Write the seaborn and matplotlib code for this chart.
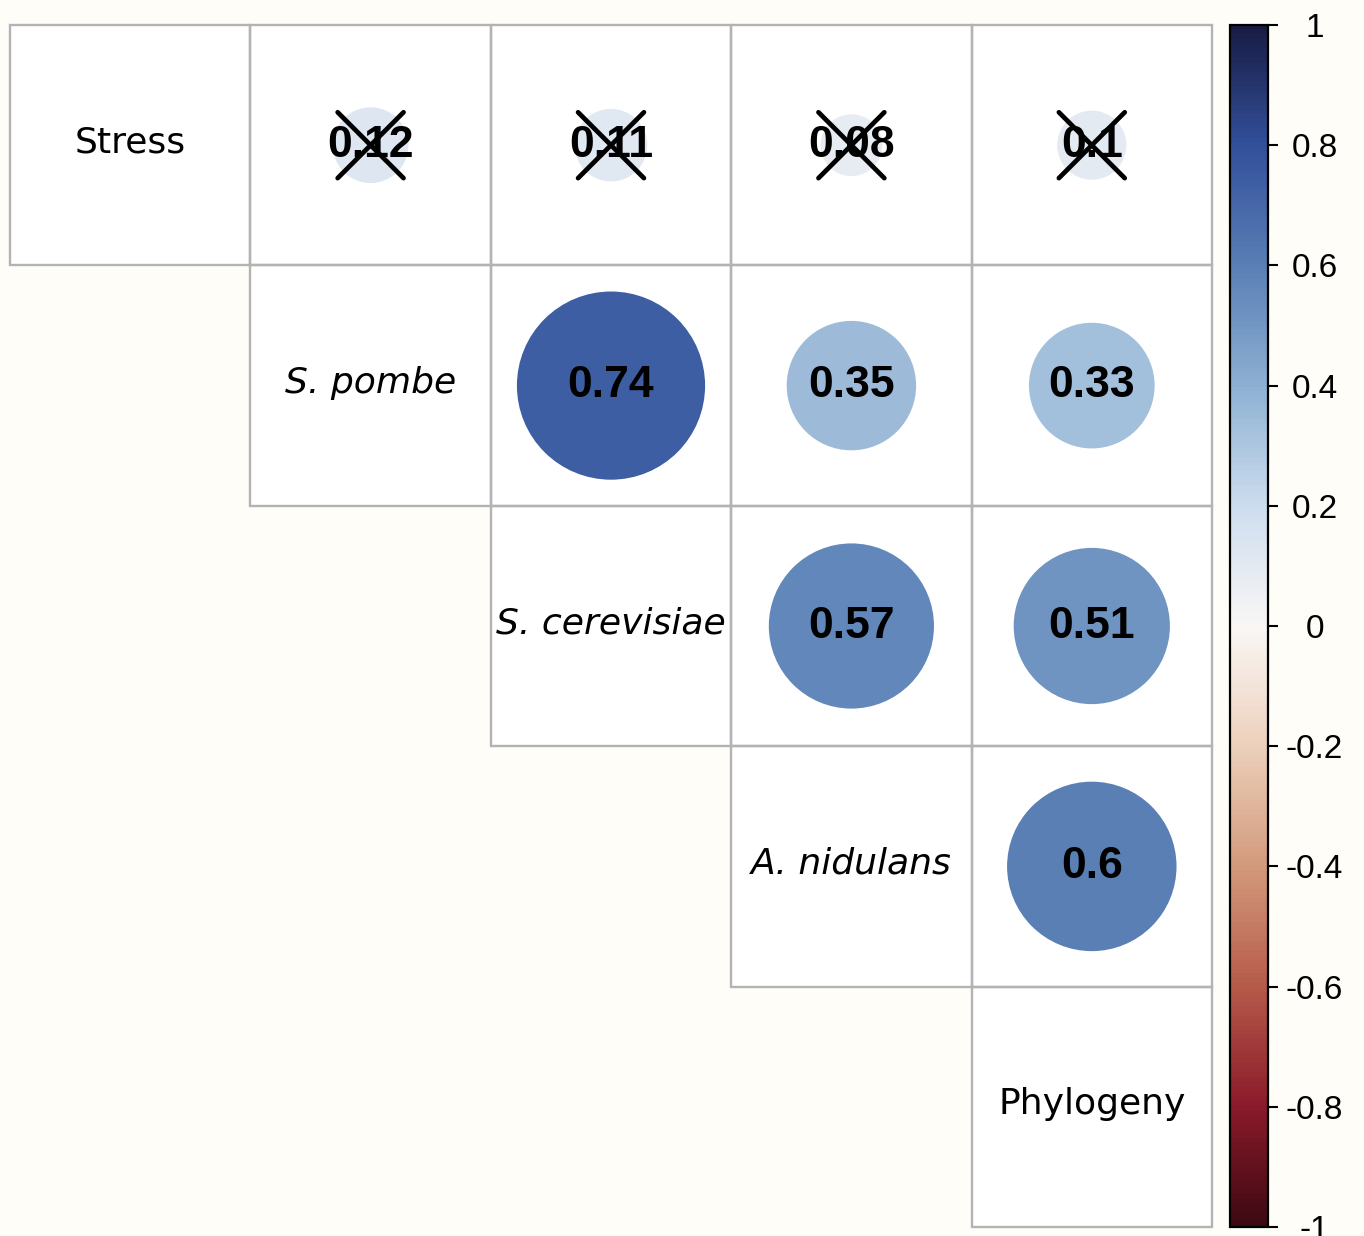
import numpy as np
import pandas as pd
import matplotlib
matplotlib.use("Agg")
import matplotlib.pyplot as plt
import seaborn as sns
from matplotlib.colors import LinearSegmentedColormap, ListedColormap, Normalize
from matplotlib.cm import ScalarMappable
from matplotlib.patches import Circle, Rectangle

# ---- data ---------------------------------------------------------------
variables = ["Stress", "S. pombe", "S. cerevisiae", "A. nidulans", "Phylogeny"]
italic_names = [False, True, True, True, False]

# upper-triangle correlations, row by row
stress_r = [0.12, 0.11, 0.08, 0.10]
pombe_r = [0.74, 0.35, 0.33]
cerevisiae_r = [0.57, 0.51]
nidulans_r = [0.60]

# significance of each correlation (False -> crossed out)
stress_sig = [False, False, False, False]
pombe_sig = [True, True, True]
cerevisiae_sig = [True, True]
nidulans_sig = [True]

cbar_ticks = [-1, -0.8, -0.6, -0.4, -0.2, 0, 0.2, 0.4, 0.6, 0.8, 1]
cbar_labels = ["-1", "-0.8", "-0.6", "-0.4", "-0.2", "0", "0.2", "0.4", "0.6", "0.8", "1"]

# ---- matrices -----------------------------------------------------------
n = len(variables)
rows_r = [stress_r, pombe_r, cerevisiae_r, nidulans_r]
rows_sig = [stress_sig, pombe_sig, cerevisiae_sig, nidulans_sig]
corr = np.eye(n)
sig = np.ones((n, n), dtype=bool)
for i, (vals, flags) in enumerate(zip(rows_r, rows_sig)):
    for k, (v, s) in enumerate(zip(vals, flags)):
        corr[i, i + 1 + k] = v
        sig[i, i + 1 + k] = s
corr_df = pd.DataFrame(corr, index=variables, columns=variables)
lower_mask = np.tril(np.ones((n, n), dtype=bool), k=-1)

# diverging palette: dark red (-1) -> white (0) -> navy (+1)
anchor_vals = [-1, -0.8, -0.6, -0.4, -0.2, 0, 0.2, 0.4, 0.6, 0.8, 1]
anchor_cols = ["#3c0912", "#8b1a2a", "#b65b4a", "#d39a7c", "#ecd0bc", "#f9f7f5",
               "#cdddee", "#8db0d2", "#5a7fb5", "#33509c", "#181c43"]
cmap = LinearSegmentedColormap.from_list(
    "corr_div", [((v + 1) / 2, c) for v, c in zip(anchor_vals, anchor_cols)], N=256)
norm = Normalize(-1, 1)

# ---- figure -------------------------------------------------------------
sns.set_style("white")
plt.rcParams["font.family"] = ["DejaVu Sans"]
bg = "#fefdf8"
grid_col = "#b3b3b3"
W, H = 1364, 1236
fig = plt.figure(figsize=(W / 100, H / 100), dpi=100, facecolor=bg)

ax = fig.add_axes([10 / W, 9 / H, 1202 / W, 1202 / H])
ax.set_facecolor(bg)

# white cells for the upper triangle
sns.heatmap(pd.DataFrame(np.ones((n, n)), index=variables, columns=variables),
            mask=lower_mask, cmap=ListedColormap(["white"]), cbar=False,
            linewidths=0, xticklabels=False, yticklabels=False, ax=ax)
ax.set_xlim(0, n)
ax.set_ylim(n, 0)
for s in ax.spines.values():
    s.set_visible(False)

# grey cell borders, upper triangle only
for i in range(n):
    for j in range(i, n):
        ax.add_patch(Rectangle((j, i), 1, 1, fill=False, edgecolor=grid_col,
                               linewidth=1.7, clip_on=False, zorder=2))

# diagonal labels
for i, name in enumerate(variables):
    ax.text(i + 0.5, i + 0.49, name, ha="center", va="center", fontsize=26,
            style="italic" if italic_names[i] else "normal", color="black",
            family="DejaVu Sans")

# circles, values and crosses
for i in range(n):
    for j in range(i + 1, n):
        r = corr_df.iloc[i, j]
        cx, cy = j + 0.5, i + 0.5
        ax.add_patch(Circle((cx, cy), 0.455 * np.sqrt(abs(r)),
                            facecolor=cmap(norm(r)), edgecolor="none", zorder=3))
        ax.text(cx, cy, f"{round(r, 2):g}", ha="center", va="center",
                fontsize=32, fontweight="bold", family="Liberation Sans",
                color="black", zorder=4)
        if not sig[i, j]:
            d = 0.137
            ax.plot([cx - d, cx + d], [cy - d, cy + d], color="black", lw=3.4,
                    solid_capstyle="round", zorder=5)
            ax.plot([cx - d, cx + d], [cy + d, cy - d], color="black", lw=3.4,
                    solid_capstyle="round", zorder=5)

# colour bar
cax = fig.add_axes([1230 / W, 9 / H, 38 / W, 1202 / H])
sm = ScalarMappable(norm=norm, cmap=cmap)
cb = fig.colorbar(sm, cax=cax, ticks=cbar_ticks)
cb.set_ticklabels(cbar_labels)
cb.outline.set_edgecolor("black")
cb.outline.set_linewidth(1.6)
cax.tick_params(axis="y", length=7, width=1.5, color="black", pad=26.5,
                labelsize=24, labelcolor="black")
for t in cax.get_yticklabels():
    t.set_ha("center")
    t.set_family("Liberation Sans")
    t.set_color("black")

fig.savefig("out.png", dpi=100, facecolor=bg)
